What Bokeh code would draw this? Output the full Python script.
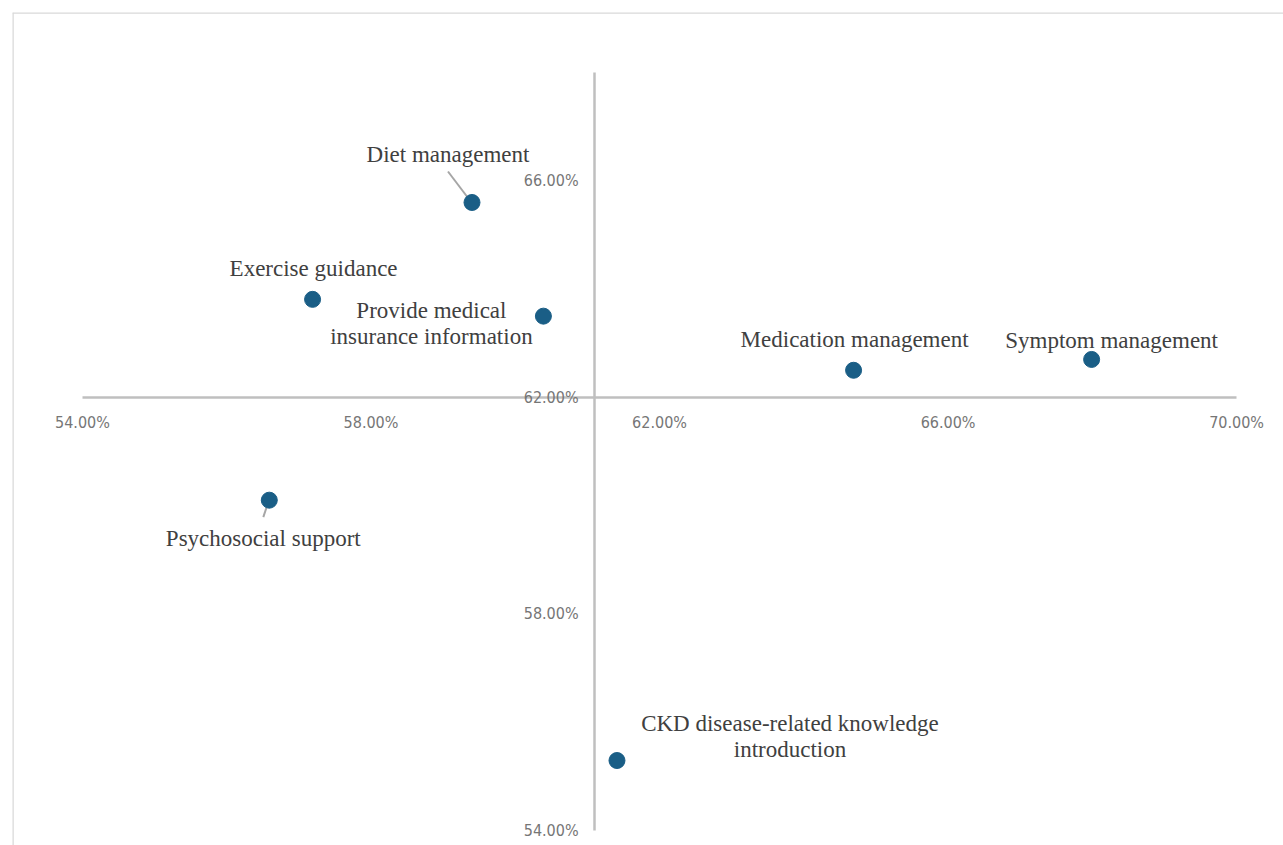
from bokeh.plotting import figure
from bokeh.models import ColumnDataSource, FixedTicker, PrintfTickFormatter, Range1d, Span
from bokeh.core.properties import value
from bokeh.embed import file_html
from bokeh.resources import INLINE

# ---- data (percent) ----
categories = [
    "Diet management",
    "Exercise guidance",
    "Provide medical\ninsurance information",
    "Medication management",
    "Symptom management",
    "Psychosocial support",
    "CKD disease-related knowledge\nintroduction",
]
x_values = [59.40, 57.19, 60.39, 64.69, 67.99, 56.59, 61.41]
y_values = [65.60, 63.81, 63.50, 62.50, 62.70, 60.10, 55.29]

x_ticks = [54, 58, 62, 66, 70]
y_ticks = [54, 58, 62, 66]
x_axis_bounds = (54, 70)
y_axis_bounds = (54, 68)
x_cross = 61.1   # where the vertical axis crosses
y_cross = 62.0   # where the horizontal axis crosses

# ---- label placement (screen px offsets, styling only) ----
label_dx = [-24, 1, -112, 1, 20, -6, 173]
label_dy = [-48, -31, 7, -31, -19, 38, -24]
# leader lines: (index, start dx, start dy, end dx, end dy) in px
leaders = [(0, -24, -31, -2, -2), (5, -6, 17, -1, 2)]

W, H = 1283, 845
MB_L, MB_T = 12, 12
x_start, x_end = 53.03, 70.65
y_start, y_end = 53.72, 69.11

p = figure(width=W, height=H, output_backend="svg", toolbar_location=None,
           x_range=Range1d(x_start, x_end), y_range=Range1d(y_start, y_end),
           min_border_left=MB_L, min_border_top=MB_T, min_border_right=0, min_border_bottom=0,
           title=None)
p.background_fill_color = "white"
p.border_fill_color = "white"
p.outline_line_color = None
p.grid.visible = False

# chart-area border (only left/top edges fall inside the window)
p.add_layout(Span(location=x_start, dimension="height", line_color="#d9d9d9", line_width=2.5))
p.add_layout(Span(location=y_end, dimension="width", line_color="#d9d9d9", line_width=2.5))

tick_font = "'Liberation Sans Narrow', 'DejaVu Sans Condensed', sans-serif"
for ax, ticks, bounds, loc in ((p.xaxis[0], x_ticks, x_axis_bounds, y_cross),
                               (p.yaxis[0], y_ticks, y_axis_bounds, x_cross)):
    ax.fixed_location = loc
    ax.ticker = FixedTicker(ticks=ticks)
    ax.formatter = PrintfTickFormatter(format="%.2f%%")
    ax.bounds = bounds
    ax.axis_line_color = "#bfbfbf"
    ax.axis_line_width = 2.5
    ax.major_tick_line_color = None
    ax.minor_tick_line_color = None
    ax.major_label_text_font = tick_font
    ax.major_label_text_font_size = "16px"
    ax.major_label_text_color = "#767676"
p.xaxis[0].major_label_standoff = 10
p.yaxis[0].major_label_standoff = 10

frame_w = W - MB_L
frame_h = H - MB_T
ppx_x = frame_w / (x_end - x_start)
ppx_y = frame_h / (y_end - y_start)

# leader lines
lx0, ly0, lx1, ly1 = [], [], [], []
for i, sx0, sy0, sx1, sy1 in leaders:
    lx0.append(x_values[i] + sx0 / ppx_x)
    ly0.append(y_values[i] - sy0 / ppx_y)
    lx1.append(x_values[i] + sx1 / ppx_x)
    ly1.append(y_values[i] - sy1 / ppx_y)
p.segment(x0=lx0, y0=ly0, x1=lx1, y1=ly1, line_color="#a6a6a6", line_width=2)

src = ColumnDataSource(dict(x=x_values, y=y_values, label=categories,
                            dx=label_dx, dy=label_dy))
p.scatter("x", "y", source=src, size=16, fill_color="#1a5e86", line_color="#1a5e86")
p.text("x", "y", text="label", source=src, x_offset="dx", y_offset="dy",
       text_align="center", text_baseline="middle",
       text_font=value("Liberation Serif"), text_font_size="23px",
       text_color="#404040", text_line_height=1.05)

open("out.html", "w").write(file_html(p, INLINE))
